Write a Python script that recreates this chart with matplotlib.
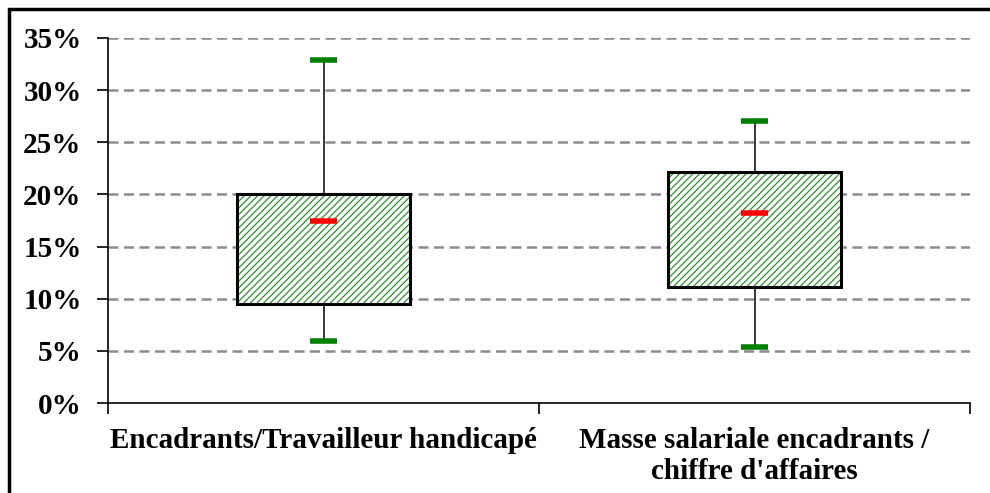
import numpy as np
import matplotlib.pyplot as plt
from matplotlib.patches import Rectangle
from matplotlib.ticker import FuncFormatter

# données (en %)
categories = ["Encadrants/Travailleur handicapé", "Masse salariale encadrants /\nchiffre d'affaires"]
minimum = [5.95, 5.35]
q1 = [9.45, 11.1]
mediane = [17.45, 18.2]
q3 = [20.0, 22.15]
maximum = [32.85, 27.05]

plt.rcParams['font.family'] = ['Liberation Serif', 'DejaVu Serif']
plt.rcParams['font.weight'] = 'bold'
plt.rcParams['hatch.linewidth'] = 0.9

fig = plt.figure(figsize=(9.9, 4.93), dpi=100)
ax = fig.add_axes([108 / 990, 1 - 403 / 493, (970 - 108) / 990, (403 - 38) / 493])

x = np.arange(len(categories)) + 0.5
largeur = 0.40
cap = 0.063

# grille en pointillés
for v in range(5, 40, 5):
    ax.axhline(v, color='#8c8c8c', lw=1.8, ls=(0, (4, 2.2)), zorder=0)

# moustaches
ax.vlines(x, minimum, maximum, color='black', lw=1.1, zorder=1)

# boîtes hachurées
hauteur = np.array(q3) - np.array(q1)
ax.bar(x, hauteur, largeur, bottom=q1, color='white', edgecolor='#2f8f2f',
       hatch='/////', lw=0, zorder=2)
ax.bar(x, hauteur, largeur, bottom=q1, fill=False, edgecolor='black', lw=2.2, zorder=3)

# extrémités et médianes
ax.hlines(minimum, x - cap / 2, x + cap / 2, color='#008000', lw=4, zorder=4)
ax.hlines(maximum, x - cap / 2, x + cap / 2, color='#008000', lw=4, zorder=4)
ax.hlines(mediane, x - cap / 2, x + cap / 2, color='#ff0000', lw=4, zorder=4)

ax.set_xlim(0, len(categories))
ax.set_ylim(0, 35)
ax.set_yticks(range(0, 40, 5))
ax.yaxis.set_major_formatter(FuncFormatter(lambda v, p: f"{v:.0f}%"))
ax.set_xticks(x)
ax.set_xticklabels(categories, fontsize=21, linespacing=1.2)
ax.set_xticks(np.arange(len(categories) + 1), minor=True)
ax.tick_params(axis='x', which='major', length=0, pad=17)
ax.tick_params(axis='x', which='minor', length=8, width=1.2, direction='out')
ax.tick_params(axis='y', length=8, width=1.2, labelsize=21, pad=11)

for s in ['top', 'right']:
    ax.spines[s].set_visible(False)
for s in ['left', 'bottom']:
    ax.spines[s].set_linewidth(1.2)

# cadre extérieur
fig.patches.append(Rectangle((9 / 990, -0.1), 1.2, 1 - 9 / 493 + 0.1, transform=fig.transFigure,
                             fill=False, lw=2.5, edgecolor='black', clip_on=False))

fig.savefig('out.png', dpi=100)
